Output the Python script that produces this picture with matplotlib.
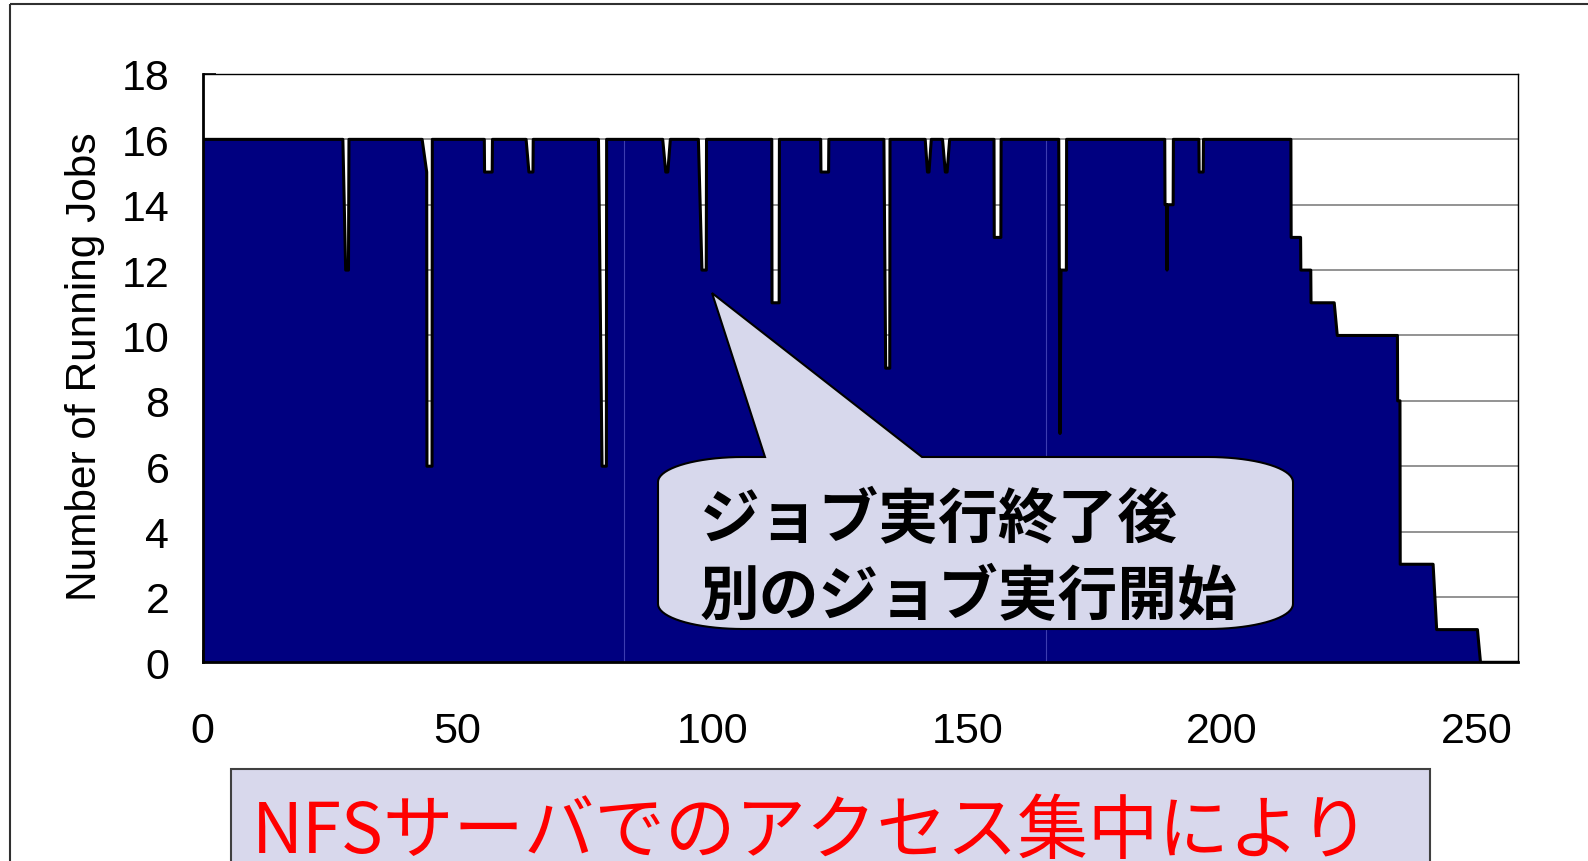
import numpy as np
import matplotlib.pyplot as plt
from matplotlib.patches import Polygon, Rectangle

# Time [s] and number of running jobs
t = [0, 27.5, 28.05, 28.6, 28.7,
     43.05, 43.95, 44.0, 45.0, 45.05,
     55.25, 55.3, 56.8, 56.85,
     63.45, 64.0, 64.8, 64.85,
     77.65, 78.35, 79.2, 79.25,
     90.25, 90.85, 91.25, 91.75,
     97.25, 97.95, 98.8, 98.85,
     111.65, 111.7, 113.1, 113.15,
     121.25, 121.3, 122.8, 122.85,
     133.65, 134.0, 134.8, 134.85,
     141.75, 142.2, 142.5, 142.95,
     145.15, 145.7, 146.05, 146.55,
     155.25, 155.3, 156.6, 156.65,
     167.95, 168.2, 168.4, 169.45, 169.5,
     188.75, 188.8, 189.1, 189.2, 189.3, 190.4, 190.45,
     195.45, 195.5, 196.3, 196.35,
     213.5, 213.55, 215.4, 215.45, 217.4, 217.45, 222.0, 222.6,
     234.4, 234.45, 234.9, 234.95, 241.4, 242.1, 250.1, 250.7, 258]
jobs = [16, 16, 12, 12, 16,
        16, 15, 6, 6, 16,
        16, 15, 15, 16,
        16, 15, 15, 16,
        16, 6, 6, 16,
        16, 15, 15, 16,
        16, 12, 12, 16,
        16, 11, 11, 16,
        16, 15, 15, 16,
        16, 9, 9, 16,
        16, 15, 15, 16,
        16, 15, 15, 16,
        16, 13, 13, 16,
        16, 7, 12, 12, 16,
        16, 14, 14, 12, 14, 14, 16,
        16, 15, 15, 16,
        16, 13, 13, 12, 12, 11, 11, 10,
        10, 8, 8, 3, 3, 1, 1, 0, 0]
series_breaks = [82.6, 165.5]   # seams between the three joined series
x_ticks = [0, 50, 100, 150, 200, 250]
y_ticks = list(range(0, 19, 2))

ylabel = 'Number of Running Jobs'
callout = ['ジョブ実行終了後', '別のジョブ実行開始']
banner = 'NFSサーバでのアクセス集中により'

W, H = 1588, 862
fig = plt.figure(figsize=(W / 100, H / 100), dpi=100)

# Main chart
ax = fig.add_axes([202.7 / W, 1 - 663.3 / H, (1517.7 - 202.7) / W, (663.3 - 75) / H])
for y in y_ticks[1:]:
  ax.axhline(y, color='#808080', lw=1.2, zorder=1)
ax.fill_between(t, jobs, color='#000080', lw=0, zorder=2)
ax.vlines(series_breaks, 0, 16, color='#3d3db0', lw=0.8, zorder=2.5)
ax.plot(t, jobs, color='black', lw=2.2, zorder=3)

ax.set_xlim(0, 258)
ax.set_ylim(0, 18)
ax.set_xticks(x_ticks)
ax.set_yticks(y_ticks)
ax.tick_params(direction='in', length=9, width=1.2, color='black', labelsize=31)
ax.tick_params(axis='x', pad=35)
ax.tick_params(axis='y', pad=24)
for lab in ax.get_xticklabels() + ax.get_yticklabels():
  lab.set_family('Liberation Sans')
for side in ['left', 'bottom']:
  ax.spines[side].set_linewidth(2.0)
for side in ['top', 'right']:
  ax.spines[side].set_linewidth(1.0)

fig.text(85 / W, 1 - 367 / H, ylabel, rotation=90, ha='center', va='center',
         fontsize=30.5, family='Liberation Sans')

# Overlay in pixel coordinates for the annotations
ov = fig.add_axes([0, 0, 1, 1], zorder=10)
ov.set_xlim(0, W)
ov.set_ylim(H, 0)
ov.axis('off')
ov.patch.set_alpha(0)

# Slide frame
ov.add_patch(Rectangle((10, 5), 1700, 1000, fill=False, ec='#303030', lw=1.5))

# Callout bubble
L, R, T, B = 658, 1293, 458, 630
rx, ry = 85, 25
def arc(cx, cy, a0, a1):
  a = np.radians(np.linspace(a0, a1, 20))
  return list(zip(cx + rx * np.cos(a), cy + ry * np.sin(a)))
pts = [(765, T), (712, 294), (922, T)]
pts += arc(R - rx, T + ry, -90, 0)
pts += arc(R - rx, B - ry, 0, 90)
pts += arc(L + rx, B - ry, 90, 180)
pts += arc(L + rx, T + ry, 180, 270)
ov.add_patch(Polygon(pts, closed=True, fc='#D7D8EC', ec='black', lw=1.5))
for i, line in enumerate(callout):
  ov.text(700, 521 + 77 * i, line, fontsize=43, fontweight='bold', ha='left', va='center',
          family=['Noto Sans CJK JP', 'DejaVu Sans'], color='black')

# Bottom banner (cut by the lower edge, as in the original slide)
ov.add_patch(Rectangle((230.7, 770), 1430 - 230.7, 200, fc='#D8D8EC', ec='#404040', lw=1.5))
ov.text(252, 853, banner, fontsize=50.8, color='#FF0000', ha='left', va='baseline',
        family=['Noto Sans CJK JP', 'DejaVu Sans'])

plt.savefig('out.png', dpi=100)
